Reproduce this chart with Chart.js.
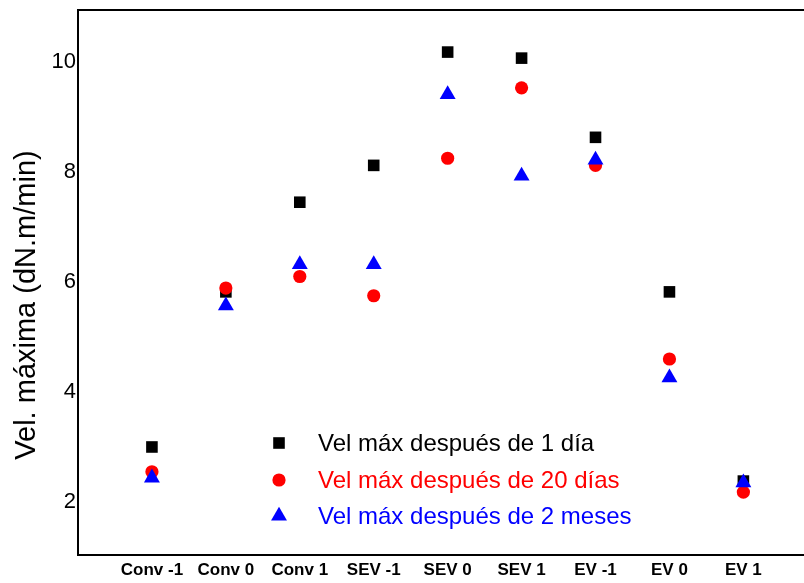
<!DOCTYPE html>
<html>
<head>
<meta charset="utf-8">
<script src="https://cdn.jsdelivr.net/npm/chart.js"></script>
<style>
  body { margin: 0; background: #fff; }
  #wrap { width: 804px; height: 583px; }
</style>
</head>
<body>
<div id="wrap"><canvas id="velChart"></canvas></div>
<script>
// Treatments along the x axis
const categories = ["Conv -1", "Conv 0", "Conv 1", "SEV -1", "SEV 0", "SEV 1", "EV -1", "EV 0", "EV 1"];

// Max velocity (dN.m/min) per treatment
const vel1Dia = [3.0, 5.82, 7.45, 8.12, 10.18, 10.07, 8.63, 5.82, 2.38];
const vel20Dias = [2.55, 5.89, 6.10, 5.75, 8.25, 9.53, 8.12, 4.60, 2.18];
const vel2Meses = [2.44, 5.57, 6.32, 6.32, 9.41, 7.93, 8.22, 4.26, 2.35];

const yTicks = [2, 4, 6, 8, 10];

const seriesLabels = [
  "Vel máx después de 1 día",
  "Vel máx después de 20 días",
  "Vel máx después de 2 meses"
];

const FONT = "'Liberation Sans', Arial, sans-serif";

function toPoints(values) {
  return values.map((v, i) => ({ x: i + 1, y: v }));
}

const datasets = [
  { label: seriesLabels[0], data: toPoints(vel1Dia), pointStyle: "rect", pointRadius: 8.2, color: "#000000", order: 3 },
  { label: seriesLabels[1], data: toPoints(vel20Dias), pointStyle: "circle", pointRadius: 6.6, color: "#ff0000", order: 2 },
  { label: seriesLabels[2], data: toPoints(vel2Meses), pointStyle: "triangle", pointRadius: 9.2, color: "#0000ff", order: 1 }
].map(d => ({
  label: d.label,
  data: d.data,
  order: d.order,
  pointStyle: d.pointStyle,
  pointRadius: d.pointRadius,
  pointHoverRadius: d.pointRadius,
  pointBackgroundColor: d.color,
  pointBorderWidth: 0,
  backgroundColor: d.color,
  borderColor: d.color,
  showLine: false
}));

// Axis title, top frame line and in-plot legend
const decorations = {
  id: "decorations",
  afterDraw(chart) {
    const ctx = chart.ctx;
    const area = chart.chartArea;

    ctx.save();
    ctx.strokeStyle = "#000";
    ctx.lineWidth = 2;
    ctx.beginPath();
    ctx.moveTo(area.left - 1, area.top);
    ctx.lineTo(chart.width, area.top);
    ctx.stroke();

    ctx.translate(27, 305);
    ctx.rotate(-Math.PI / 2);
    ctx.fillStyle = "#000";
    ctx.font = "29px " + FONT;
    ctx.textAlign = "center";
    ctx.textBaseline = "middle";
    ctx.fillText("Vel. máxima (dN.m/min)", 0, 0);
    ctx.restore();

    const rowsY = [443, 480, 516];
    chart.data.datasets.forEach((ds, i) => {
      ctx.save();
      ctx.fillStyle = ds.pointBackgroundColor;
      Chart.helpers.drawPoint(ctx, {
        pointStyle: ds.pointStyle,
        radius: ds.pointRadius,
        borderWidth: 0,
        rotation: 0
      }, 279, rowsY[i]);
      ctx.font = "24px " + FONT;
      ctx.textAlign = "left";
      ctx.textBaseline = "middle";
      ctx.fillText(ds.label, 318, rowsY[i] + 1);
      ctx.restore();
    });
  }
};

// keep the plot area fixed: no extra room reserved for edge labels
function noEdgePadding(scale) {
  scale.paddingTop = 0;
  scale.paddingBottom = 0;
  scale.paddingLeft = 0;
  scale.paddingRight = 0;
}

new Chart(document.getElementById("velChart"), {
  type: "scatter",
  data: { datasets: datasets },
  options: {
    responsive: true,
    maintainAspectRatio: false,
    animation: false,
    layout: {
      autoPadding: false,
      padding: { top: 10, right: 0, left: 0, bottom: 0 }
    },
    plugins: {
      legend: { display: false },
      tooltip: { enabled: false }
    },
    scales: {
      x: {
        type: "linear",
        min: 0,
        max: 9.82,
        grid: { display: false, drawTicks: false },
        border: { display: true, color: "#000", width: 2 },
        afterBuildTicks: scale => {
          scale.ticks = categories.map((c, i) => ({ value: i + 1 }));
        },
        afterFit: scale => {
          scale.height = 28;
          noEdgePadding(scale);
        },
        ticks: {
          autoSkip: false,
          maxRotation: 0,
          padding: 5,
          color: "#000",
          font: { family: FONT, size: 17, weight: "bold" },
          callback: value => categories[value - 1]
        }
      },
      y: {
        min: 1.036,
        max: 10.945,
        grid: { display: false, drawTicks: false },
        border: { display: true, color: "#000", width: 2 },
        afterBuildTicks: scale => {
          scale.ticks = yTicks.map(v => ({ value: v }));
        },
        afterFit: scale => {
          scale.width = 78;
          noEdgePadding(scale);
        },
        ticks: {
          padding: 2,
          color: "#000",
          font: { family: FONT, size: 22 }
        }
      }
    }
  },
  plugins: [decorations]
});
</script>
</body>
</html>
